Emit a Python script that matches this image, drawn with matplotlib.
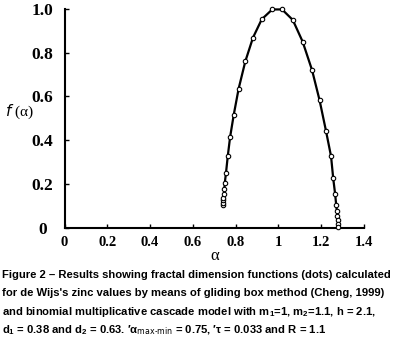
import matplotlib
matplotlib.use("Agg")
import matplotlib.pyplot as plt

# f(alpha) spectrum: left branch (bottom -> top), then right branch
alpha = [0.740, 0.741, 0.742, 0.743, 0.745, 0.747, 0.749, 0.755, 0.763, 0.774,
         0.791, 0.814, 0.845, 0.881, 0.922, 0.971, 1.017, 1.067, 1.113, 1.157,
         1.192, 1.222, 1.246, 1.256, 1.265, 1.270, 1.273, 1.276, 1.277, 1.279, 1.280]
f_alpha = [0.104, 0.113, 0.125, 0.138, 0.155, 0.175, 0.203, 0.252, 0.326, 0.414,
           0.516, 0.636, 0.760, 0.869, 0.953, 0.998, 0.998, 0.950, 0.851, 0.721,
           0.584, 0.444, 0.326, 0.226, 0.154, 0.104, 0.078, 0.055, 0.035, 0.017, 0.002]

xticks = [0, 0.2, 0.4, 0.6, 0.8, 1.0, 1.2, 1.4]
xtick_labels = ["0", "0.2", "0.4", "0.6", "0.8", "1", "1.2", "1.4"]
yticks = [0, 0.2, 0.4, 0.6, 0.8, 1.0]
ytick_labels = ["0", "0.2", "0.4", "0.6", "0.8", "1.0"]

caption = [
    "Figure 2 \u2013 Results showing fractal dimension functions (dots) calculated",
    "for de Wijs's zinc values by means of gliding box method (Cheng, 1999)",
    "and binomial multiplicative cascade model with m$_1$=1, m$_2$=1.1, h = 2.1,",
    "d$_1$ = 0.38 and d$_2$ = 0.63. \u2032\u03b1$_{\\text{max-min}}$ = 0.75, \u2032\u03c4 = 0.033 and R = 1.1",
]

plt.rcParams["mathtext.default"] = "regular"

fig = plt.figure(figsize=(3.97, 3.56), dpi=100)
ax = fig.add_axes([0.1625, 0.3604, 0.7544, 0.6143])

ax.plot(alpha, f_alpha, color="black", lw=1.6, marker="o", ms=3.2,
        mfc="white", mec="black", mew=0.8, clip_on=False, zorder=3)

ax.set_xlim(0, 1.4)
ax.set_ylim(0, 1.0)
for side in ["top", "right"]:
    ax.spines[side].set_visible(False)
for side in ["left", "bottom"]:
    ax.spines[side].set_linewidth(1.5)

ax.set_xticks(xticks)
ax.set_xticklabels(xtick_labels, family="Liberation Serif", weight="bold", fontsize=10.5)
ax.set_yticks(yticks)
ax.set_yticklabels(ytick_labels, family="Liberation Serif", weight="bold", fontsize=12.5)
for lab in ax.get_yticklabels():
    lab.set_ha("center")
ax.tick_params(axis="x", direction="in", length=3, width=1, pad=6)
ax.tick_params(axis="y", direction="in", length=3, width=1, pad=16)

ax.set_xlabel("\u03b1", family="Liberation Serif", fontsize=12)
ax.xaxis.set_label_coords(0.5, -0.095)
ax.set_ylabel("$\\mathit{f}$ (\u03b1)", family="Liberation Serif", fontsize=11, rotation=0)
ax.yaxis.set_label_coords(-0.152, 0.49)

ys = [0.2275, 0.177, 0.124, 0.073]
for line, y in zip(caption, ys):
    fig.text(0.005, y, line, family="Liberation Sans", weight="bold",
             fontsize=8.1, va="center", ha="left")

fig.savefig("out.png", dpi=100)
